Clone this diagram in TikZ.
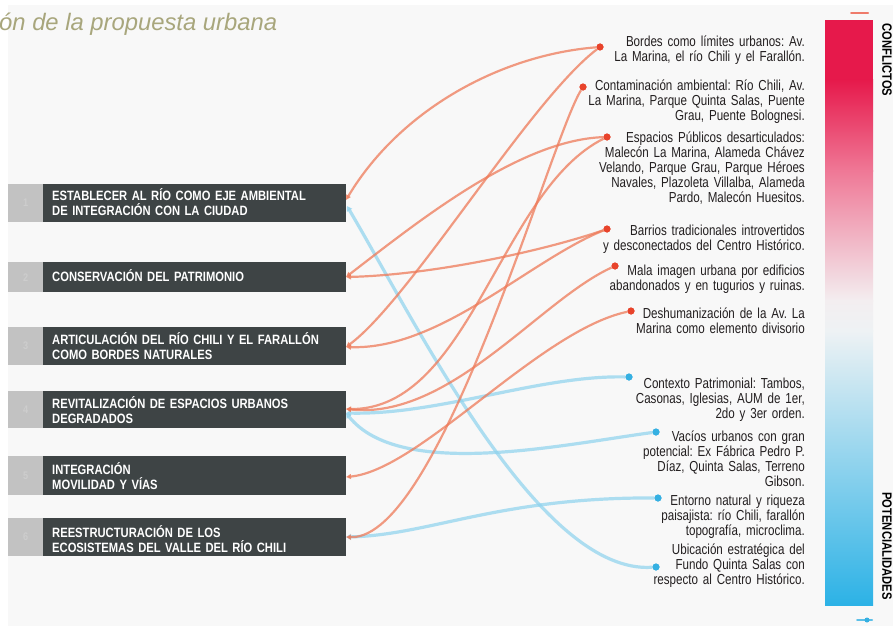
\documentclass[tikz,border=0pt]{standalone}
\usepackage{fontspec}
\setmainfont{Liberation Sans}
\newfontfamily\condfont[FakeStretch=0.8]{Liberation Sans}
\newfontfamily\boldcond[FakeStretch=0.83]{Liberation Sans}
\usetikzlibrary{arrows.meta}
\definecolor{panel}{HTML}{F8F8F8}
\definecolor{boxgray}{HTML}{3E4445}
\definecolor{stripgray}{HTML}{C2C2C2}
\definecolor{numgray}{HTML}{CDCDCD}
\definecolor{titlecol}{HTML}{A8A67C}
\definecolor{ink}{HTML}{231F20}
\definecolor{conred}{HTML}{E8432B}
\definecolor{potblue}{HTML}{35B0E2}
\definecolor{conline}{HTML}{EE7A58}
\definecolor{potline}{HTML}{8DD2EE}
\definecolor{barred}{HTML}{E6194B}
\definecolor{barpink}{HTML}{EF7896}
\definecolor{barwhite}{HTML}{F3EEF0}
\definecolor{barmid}{HTML}{EEF2F4}
\definecolor{barblue}{HTML}{2CB2E6}
\frenchspacing
\begin{document}
\frenchspacing
\begin{tikzpicture}[x=1pt,y=-1pt,
  goalbox/.style={fill=boxgray, draw=none, inner sep=0, anchor=north west, minimum width=303pt},
  numstrip/.style={fill=stripgray, draw=none, inner sep=0, anchor=north west, minimum width=35pt, text=numgray, font=\boldcond\bfseries\fontsize{11}{11}\selectfont},
  goaltext/.style={inner sep=0, anchor=base west, text width=295pt, align=left, text=white, font=\boldcond\bfseries\fontsize{13.5}{15}\selectfont},
  itemtext/.style={inner sep=0, anchor=base east, text width=240pt, align=right, text=ink, font=\condfont\fontsize{14.5}{15.2}\selectfont},
  cdot/.style={circle, fill=conred, inner sep=0, minimum size=7pt},
  pdot/.style={circle, fill=potblue, inner sep=0, minimum size=7pt},
  cline/.style={draw=conline, line width=2.2pt, opacity=0.75, {Triangle[length=5pt,width=5pt]}-},
  pline/.style={draw=potline, line width=3.2pt, opacity=0.7, {Triangle[length=5pt,width=6pt]}-},
  sidelabel/.style={rotate=-90, inner sep=0, font=\boldcond\bfseries\fontsize{13.5}{13.5}\selectfont, text=black},
]
\useasboundingbox (0,0) rectangle (893,626);
\fill[white] (0,0) rectangle (893,626);
\fill[panel] (8,5) rectangle (893,626);

% title
\node[anchor=base west, inner sep=0, font=\itshape\fontsize{23.8}{23.8}\selectfont, text=titlecol] (title) at (-1,31) {ón de la propuesta urbana};

% gradient bar
\fill[barred] (825,20) rectangle (873,80);
\shade[top color=barred, bottom color=barpink] (825,79.5) rectangle (873,171);
\shade[top color=barpink, bottom color=barwhite] (825,170.5) rectangle (873,301);
\shade[top color=barwhite, bottom color=barmid] (825,300.5) rectangle (873,331);
\shade[top color=barmid, bottom color=barblue] (825,330.5) rectangle (873,605);
\draw[conred!70, line width=2pt, line cap=round] (851,13) -- (868,13);
\draw[potblue!80, line width=2pt, line cap=round] (857,620) -- (872,620);
\fill[potblue] (867,620) circle (2.5);
\node[sidelabel] (lconf) at (887,60) {CONFLICTOS};
\node[sidelabel] (lpot) at (887,546) {POTENCIALIDADES};

% anchors on boxes
\coordinate (a1) at (346,200);
\coordinate (a1b) at (347,206);
\coordinate (a2) at (346,277);
\coordinate (a3) at (346,347);
\coordinate (a4) at (346,409);
\coordinate (a4b) at (346,413);
\coordinate (a5) at (346,477);
\coordinate (a6) at (346,537);

% dots
\node[cdot] (c1) at (600,47) {};
\node[cdot] (c2) at (583,87) {};
\node[cdot] (c3) at (607,137) {};
\node[cdot] (c4) at (607,229) {};
\node[cdot] (c5) at (615,266) {};
\node[cdot] (c6) at (631,311) {};
\node[pdot] (p1) at (629,377) {};
\node[pdot] (p2) at (656,432) {};
\node[pdot] (p3) at (658,498) {};
\node[pdot] (p4) at (656,567) {};

% blue connectors
\draw[pline] (a1b) .. controls (420,330) and (540,575) .. (p4);
\draw[pline] (a4b) .. controls (440,415) and (540,375) .. (p1);
\draw[pline] (a4b) .. controls (400,480) and (560,445) .. (p2);
\draw[pline] (a6) .. controls (430,535) and (500,497) .. (p3);

% orange connectors
\draw[cline] (a1) .. controls (400,110) and (500,55) .. (c1);
\draw[cline] (a2) .. controls (420,220) and (520,140) .. (c3);
\draw[cline] (a2) .. controls (430,275) and (540,252) .. (c4);
\draw[cline] (a3) .. controls (410,300) and (530,100) .. (c1);
\draw[cline] (a3) .. controls (440,350) and (530,260) .. (c4);
\draw[cline] (a4) .. controls (470,410) and (500,190) .. (c3);
\draw[cline] (a4) .. controls (450,420) and (540,300) .. (c5);
\draw[cline] (a5) .. controls (420,470) and (540,330) .. (c6);
\draw[cline] (a6) .. controls (440,540) and (550,140) .. (c2);

% redraw dots on top
\foreach \d in {c1,c2,c3,c4,c5,c6}{\fill[conred] (\d) circle (3.5);}
\foreach \d in {p1,p2,p3,p4}{\fill[potblue] (\d) circle (3.5);}

% strips and boxes
\node[numstrip, minimum height=38pt] (n1) at (8,184) {1};
\node[numstrip, minimum height=30pt] (n2) at (8,262) {2};
\node[numstrip, minimum height=38pt] (n3) at (8,327) {3};
\node[numstrip, minimum height=37pt] (n4) at (8,391) {4};
\node[numstrip, minimum height=39pt] (n5) at (8,456) {5};
\node[numstrip, minimum height=38pt] (n6) at (8,518) {6};
\node[goalbox, minimum height=38pt] (g1) at (43,184) {};
\node[goalbox, minimum height=30pt] (g2) at (43,262) {};
\node[goalbox, minimum height=38pt] (g3) at (43,327) {};
\node[goalbox, minimum height=37pt] (g4) at (43,391) {};
\node[goalbox, minimum height=39pt] (g5) at (43,456) {};
\node[goalbox, minimum height=38pt] (g6) at (43,518) {};

\node[goaltext] (t1) at (52,200) {ESTABLECER AL RÍO COMO EJE AMBIENTAL\\DE INTEGRACIÓN CON LA CIUDAD};
\node[goaltext] (t2) at (52,281) {CONSERVACIÓN DEL PATRIMONIO};
\node[goaltext] (t3) at (52,344) {ARTICULACIÓN DEL RÍO CHILI Y EL FARALLÓN\\COMO BORDES NATURALES};
\node[goaltext] (t4) at (52,408) {REVITALIZACIÓN DE ESPACIOS URBANOS\\DEGRADADOS};
\node[goaltext] (t5) at (52,474) {INTEGRACIÓN\\MOVILIDAD Y VÍAS};
\node[goaltext] (t6) at (52,537) {REESTRUCTURACIÓN DE LOS\\ECOSISTEMAS DEL VALLE DEL RÍO CHILI};

% right texts
\node[itemtext] (r1) at (805,46) {Bordes como límites urbanos: Av.\\La Marina, el río Chili y el Farallón.};
\node[itemtext] (r2) at (805,90) {Contaminación ambiental: Río Chili, Av.\\La Marina, Parque Quinta Salas, Puente\\Grau, Puente Bolognesi.};
\node[itemtext] (r3) at (805,142) {Espacios Públicos desarticulados:\\Malecón La Marina, Alameda Chávez\\Velando, Parque Grau, Parque Héroes\\Navales, Plazoleta Villalba, Alameda\\Pardo, Malecón Huesitos.};
\node[itemtext] (r4) at (805,235) {Barrios tradicionales introvertidos\\y desconectados del Centro Histórico.};
\node[itemtext] (r5) at (805,275) {Mala imagen urbana por edificios\\abandonados y en tugurios y ruinas.};
\node[itemtext] (r6) at (805,318) {Deshumanización de la Av. La\\Marina como elemento divisorio};
\node[itemtext] (r7) at (805,388) {Contexto Patrimonial: Tambos,\\Casonas, Iglesias, AUM de 1er,\\2do y 3er orden.};
\node[itemtext] (r8) at (805,441) {Vacíos urbanos con gran\\potencial: Ex Fábrica Pedro P.\\Díaz, Quinta Salas, Terreno\\Gibson.};
\node[itemtext] (r9) at (805,505) {Entorno natural y riqueza\\paisajista: río Chili, farallón\\topografía, microclima.};
\node[itemtext] (r10) at (805,554) {Ubicación estratégica del\\Fundo Quinta Salas con\\respecto al Centro Histórico.};
\end{tikzpicture}
\end{document}
